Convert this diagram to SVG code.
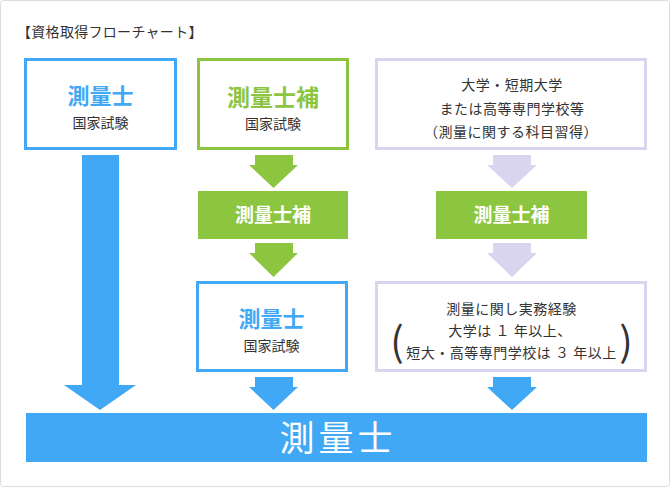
<svg xmlns="http://www.w3.org/2000/svg" width="670" height="487" viewBox="0 0 670 487">
<style>
text{font-family:"Noto Sans CJK JP","Noto Sans",sans-serif;text-anchor:middle;fill:#333}
.blue{fill:#40a8f4}
.green{fill:#8cc53f}
.lav{fill:#d9d5ee}
.bo{fill:#fff;stroke:#40a8f4;stroke-width:3}
.go{fill:#fff;stroke:#8cc53f;stroke-width:3}
.lo{fill:#fff;stroke:#d9d5ee;stroke-width:3}
.t1{font-size:22px;font-weight:bold}
.sub{font-size:14px}
.body{font-size:14px;letter-spacing:0.5px}
.w{fill:#fff}
</style>
<rect x="0.5" y="0.5" width="669" height="486" rx="3" fill="#fff" stroke="#dcdcdc"/>
<text x="17" y="37" style="font-size:14px;text-anchor:start;letter-spacing:0.3px">【資格取得フローチャート】</text>

<g id="connectors">
<polygon class="blue" points="82,155 119,155 119,385 136,385 100,410 64,385 82,385"/>
<polygon class="green" points="255,155 293,155 293,165 298,165 273.5,188 249,165 255,165"/>
<polygon class="green" points="255,243 293,243 293,253 298,253 273.5,277 249,253 255,253"/>
<polygon class="blue" points="255,377 293,377 293,387 298,387 273.5,410 249,387 255,387"/>
<polygon class="lav" points="493,155 531,155 531,165 537,165 512,188 487,165 493,165"/>
<polygon class="lav" points="493,243 531,243 531,253 537,253 512,277 487,253 493,253"/>
<polygon class="blue" points="493,377 531,377 531,387 537,387 512,410 487,387 493,387"/>
</g>

<g id="node-sokuryoshi-exam">
<rect class="bo" x="25.5" y="59.5" width="150" height="89"/>
<text class="t1 blue" x="100.5" y="104">測量士</text>
<text class="sub" x="100.5" y="128">国家試験</text>
</g>

<g id="node-ho-exam">
<rect class="go" x="198.5" y="59.5" width="149" height="89"/>
<text class="t1 green" x="273" y="106" style="font-size:23px">測量士補</text>
<text class="sub" x="273" y="129">国家試験</text>
</g>

<g id="node-univ">
<rect class="lo" x="376.5" y="59.5" width="269" height="89"/>
<text class="body" x="512" y="90">大学・短期大学</text>
<text class="body" x="512" y="114">または高等専門学校等</text>
<text class="body" x="511" y="137">（測量に関する科目習得）</text>
</g>

<g id="node-ho-1">
<rect class="green" x="198" y="191" width="150" height="48"/>
<text class="w" x="273" y="222" style="font-size:19px;font-weight:bold">測量士補</text>
</g>

<g id="node-ho-2">
<rect class="green" x="436" y="191" width="151" height="48"/>
<text class="w" x="511.5" y="222" style="font-size:19px;font-weight:bold">測量士補</text>
</g>

<g id="node-sokuryoshi-exam-2">
<rect class="bo" x="197.5" y="282.5" width="149" height="88"/>
<text class="t1 blue" x="271.5" y="327">測量士</text>
<text class="sub" x="271.5" y="351">国家試験</text>
</g>

<g id="node-experience">
<rect class="lo" x="376.5" y="282.5" width="269" height="88"/>
<text class="body" x="511.5" y="314">測量に関し実務経験</text>
<text class="body" x="510" y="336">大学は １ 年以上、</text>
<text class="body" x="511.5" y="358">短大・高等専門学校は ３ 年以上</text>
<text x="397" y="356" style="font-size:40px">(</text>
<text x="626" y="356" style="font-size:40px">)</text>
</g>

<g id="node-sokuryoshi">
<rect class="blue" x="26" y="413" width="621" height="49"/>
<text class="w" x="338" y="451" style="font-size:35px;letter-spacing:4px">測量士</text>
</g>
</svg>
